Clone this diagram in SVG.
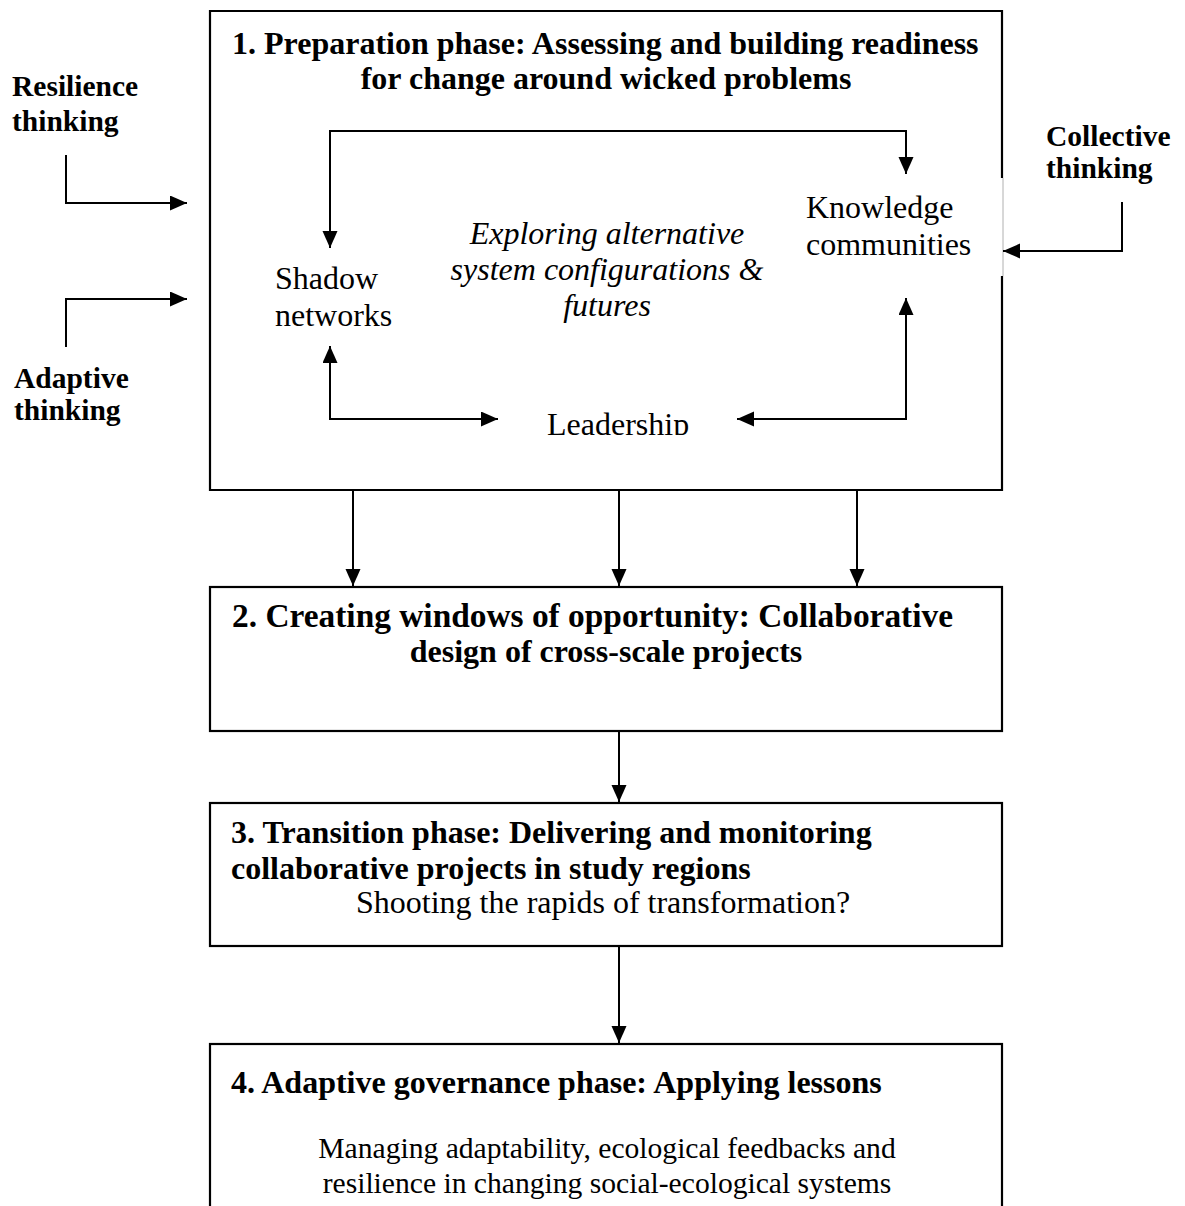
<svg xmlns="http://www.w3.org/2000/svg" width="1185" height="1206" viewBox="0 0 1185 1206">
  <style>
    text { font-family: "Liberation Serif", "Times New Roman", serif; font-size: 32px; fill: #000; }
    .b { font-weight: bold; }
    .i { font-style: italic; }
    .c { text-anchor: middle; }
    .side { font-size: 29.5px; }
    .box { fill: none; stroke: #000; stroke-width: 2.2; }
    .ln { fill: none; stroke: #000; stroke-width: 2; }
  </style>
  <defs>
    <marker id="ah" markerUnits="userSpaceOnUse" markerWidth="18" markerHeight="16" refX="17" refY="7.5" orient="auto">
      <path d="M0,0 L17,7.5 L0,15 z" fill="#000"/>
    </marker>
    <clipPath id="leadClip">
      <rect x="500" y="380" width="240" height="55"/>
    </clipPath>
  </defs>

  <rect width="1185" height="1206" fill="#fff"/>

  <!-- Phase 1 -->
  <g id="phase1">
    <path class="box" d="M1002,178 V11 H210 V490 H1002 V276"/>
    <line x1="1003" y1="178" x2="1003" y2="276" stroke="#b0b0b0" stroke-width="1"/>
    <text class="b" x="232" y="54">1. Preparation phase: Assessing and building readiness</text>
    <text class="b c" x="606" y="89">for change around wicked problems</text>
  </g>

  <g id="exploring">
    <text class="i c" x="607" y="244">Exploring alternative</text>
    <text class="i c" x="607" y="280">system configurations &amp;</text>
    <text class="i c" x="607" y="316">futures</text>
  </g>

  <g id="shadow-networks">
    <text x="275" y="289">Shadow</text>
    <text x="275" y="326">networks</text>
  </g>

  <g id="knowledge-communities">
    <text x="806" y="218">Knowledge</text>
    <text x="806" y="255">communities</text>
  </g>

  <g id="leadership">
    <text x="547" y="435" clip-path="url(#leadClip)">Leadership</text>
  </g>

  <g id="resilience-thinking">
    <text class="b side" x="12" y="96">Resilience</text>
    <text class="b side" x="12" y="131">thinking</text>
  </g>

  <g id="adaptive-thinking">
    <text class="b side" x="14" y="388">Adaptive</text>
    <text class="b side" x="14" y="420">thinking</text>
  </g>

  <g id="collective-thinking">
    <text class="b side" x="1046" y="146">Collective</text>
    <text class="b side" x="1046" y="178">thinking</text>
  </g>

  <!-- Phase 2 -->
  <g id="phase2">
    <rect class="box" x="210" y="587" width="792" height="144"/>
    <text class="b" x="232" y="627" style="font-size:33.4px">2. Creating windows of opportunity: Collaborative</text>
    <text class="b c" x="606" y="662">design of cross-scale projects</text>
  </g>

  <!-- Phase 3 -->
  <g id="phase3">
    <rect class="box" x="210" y="803" width="792" height="143"/>
    <text class="b" x="231" y="843">3. Transition phase: Delivering and monitoring</text>
    <text class="b" x="231" y="879">collaborative projects in study regions</text>
    <text x="356" y="913">Shooting the rapids of transformation?</text>
  </g>

  <!-- Phase 4 -->
  <g id="phase4">
    <rect class="box" x="210" y="1044" width="792" height="190"/>
    <text class="b" x="231" y="1093">4. Adaptive governance phase: Applying lessons</text>
    <text class="c" x="607" y="1158" style="font-size:29.6px">Managing adaptability, ecological feedbacks and</text>
    <text class="c" x="607" y="1193" style="font-size:29.6px">resilience in changing social-ecological systems</text>
  </g>

  <!-- Connectors -->
  <g id="connectors">
    <!-- loop inside phase 1 -->
    <path class="ln" d="M906,131 H330 V248" marker-end="url(#ah)"/>
    <path class="ln" d="M330,131 H906 V174" marker-end="url(#ah)"/>
    <path class="ln" d="M497,419 H330 V346" marker-end="url(#ah)"/>
    <path class="ln" d="M330,419 H498" marker-end="url(#ah)"/>
    <path class="ln" d="M738,419 H906 V298" marker-end="url(#ah)"/>
    <path class="ln" d="M906,419 H737" marker-end="url(#ah)"/>

    <!-- inputs from the side -->
    <path class="ln" d="M66,155 V203 H187" marker-end="url(#ah)"/>
    <path class="ln" d="M66,347 V299 H187" marker-end="url(#ah)"/>
    <path class="ln" d="M1122,202 V251 H1003" marker-end="url(#ah)"/>

    <!-- phase to phase -->
    <line class="ln" x1="353" y1="491" x2="353" y2="586" marker-end="url(#ah)"/>
    <line class="ln" x1="619" y1="491" x2="619" y2="586" marker-end="url(#ah)"/>
    <line class="ln" x1="857" y1="491" x2="857" y2="586" marker-end="url(#ah)"/>
    <line class="ln" x1="619" y1="732" x2="619" y2="802" marker-end="url(#ah)"/>
    <line class="ln" x1="619" y1="947" x2="619" y2="1043" marker-end="url(#ah)"/>
  </g>
</svg>
